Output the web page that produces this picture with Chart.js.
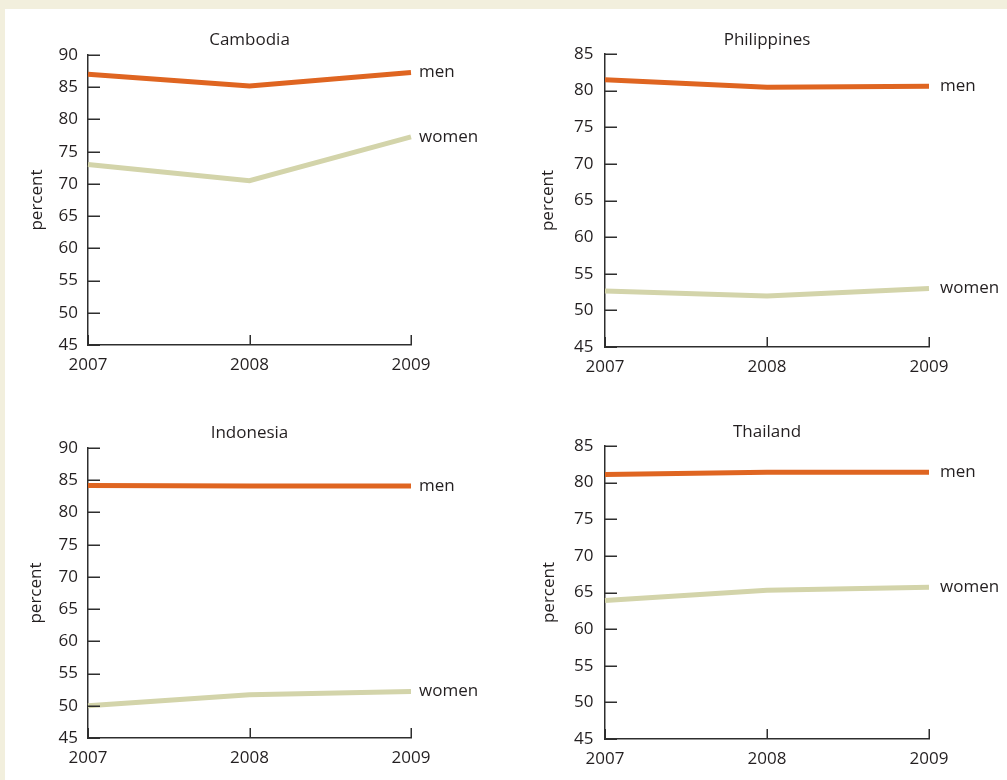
<!DOCTYPE html>
<html>
<head>
<meta charset="utf-8">
<script src="https://cdn.jsdelivr.net/npm/chart.js@4/dist/chart.umd.min.js"></script>
<style>
  html, body { margin: 0; padding: 0; }
  body { width: 1007px; height: 780px; background: #f2efdd; position: relative; overflow: hidden; }
  #panel { position: absolute; left: 5px; top: 9px; right: 0; bottom: 0; background: #ffffff; }
  canvas { position: absolute; }
</style>
</head>
<body>
<div id="panel"></div>
<canvas id="c1" width="503" height="390" style="left:0px;top:0px;width:503px;height:390px"></canvas>
<canvas id="c2" width="490" height="390" style="left:517px;top:0px;width:490px;height:390px"></canvas>
<canvas id="c3" width="503" height="390" style="left:0px;top:390px;width:503px;height:390px"></canvas>
<canvas id="c4" width="490" height="390" style="left:517px;top:390px;width:490px;height:390px"></canvas>
<script>
// ---- data ----
const years = ['2007', '2008', '2009'];
const seriesNames = ['men', 'women'];
const countries = ['Cambodia', 'Philippines', 'Indonesia', 'Thailand'];

const cambodiaMen = [87.0, 85.2, 87.3];
const cambodiaWomen = [73.0, 70.5, 77.3];
const philippinesMen = [81.5, 80.45, 80.6];
const philippinesWomen = [52.65, 51.95, 53.0];
const indonesiaMen = [84.2, 84.1, 84.1];
const indonesiaWomen = [50.0, 51.7, 52.2];
const thailandMen = [81.1, 81.4, 81.4];
const thailandWomen = [63.9, 65.3, 65.7];

const yMins = [45, 45, 45, 45];
const yMaxs = [90, 85, 90, 85];
const yStep = 5;
const yAxisTitle = 'percent';

// ---- styles / layout ----
const MEN_COLOR = '#df6521';
const WOMEN_COLOR = '#d3d4aa';
const TEXT_COLOR = '#231f20';
const AXIS_COLOR = '#2e2e2e';
const FONT = "'Open Sans', sans-serif";

const panels = [
  { id: 'c1', x0: 0,   y0: 0,   w: 503, h: 390, L: 88,  R: 411, T: 55,  B: 345, titleY: 40.5, yTitleX: 36.7, yLabGap: 10,   endGap: 8,  men: cambodiaMen,    women: cambodiaWomen },
  { id: 'c2', x0: 517, y0: 0,   w: 490, h: 390, L: 605, R: 929, T: 54,  B: 347, titleY: 40.3, yTitleX: 548.3, yLabGap: 11.5, endGap: 11, men: philippinesMen, women: philippinesWomen },
  { id: 'c3', x0: 0,   y0: 390, w: 503, h: 390, L: 88,  R: 411, T: 448, B: 738, titleY: 432.7, yTitleX: 36.3, yLabGap: 10,   endGap: 8,  men: indonesiaMen,   women: indonesiaWomen },
  { id: 'c4', x0: 517, y0: 390, w: 490, h: 390, L: 605, R: 929, T: 446, B: 739, titleY: 432.3, yTitleX: 548.8, yLabGap: 11.5, endGap: 11, men: thailandMen,    women: thailandWomen }
];

const FONT_SIZE = 17;
const LH = FONT_SIZE * 1.2;
const Y_TICK_IN = 12;
const X_TICK_IN = 10;

Chart.defaults.font.family = FONT;
Chart.defaults.font.size = FONT_SIZE;
Chart.defaults.color = TEXT_COLOR;

const endLabelPlugin = {
  id: 'endLabels',
  afterDatasetsDraw(chart, args, opts) {
    const ctx = chart.ctx;
    ctx.save();
    ctx.font = FONT_SIZE + 'px ' + FONT;
    ctx.fillStyle = TEXT_COLOR;
    ctx.textAlign = 'left';
    ctx.textBaseline = 'middle';
    chart.data.datasets.forEach((ds, i) => {
      const meta = chart.getDatasetMeta(i);
      const pt = meta.data[meta.data.length - 1];
      ctx.fillText(ds.label, pt.x + opts.gap, pt.y);
    });
    ctx.restore();
  }
};

// inward tick marks, positioned through the chart's own scales
const innerTicksPlugin = {
  id: 'innerTicks',
  afterDraw(chart) {
    const ctx = chart.ctx;
    const xs = chart.scales.x, ys = chart.scales.y;
    const left = chart.chartArea.left, bottom = chart.chartArea.bottom;
    ctx.save();
    ctx.strokeStyle = AXIS_COLOR;
    ctx.lineWidth = 1.5;
    ctx.beginPath();
    ys.ticks.forEach(t => {
      const y = Math.round(ys.getPixelForValue(t.value)) + 0.25;
      ctx.moveTo(left, y);
      ctx.lineTo(left + Y_TICK_IN, y);
    });
    xs.ticks.forEach((t, i) => {
      const x = Math.round(xs.getPixelForTick(i)) + 0.25;
      ctx.moveTo(x, bottom);
      ctx.lineTo(x, bottom - X_TICK_IN);
    });
    ctx.stroke();
    ctx.restore();
  }
};

panels.forEach((p, idx) => {
  const yAxisWidth = p.L - p.x0;
  const xAxisHeight = p.y0 + p.h - p.B;
  const titleTop = p.titleY - p.y0 - LH / 2;
  const titleBottom = p.T - p.titleY - LH / 2;
  new Chart(document.getElementById(p.id), {
    type: 'line',
    data: {
      labels: years,
      datasets: [
        { label: seriesNames[0], data: p.men, borderColor: MEN_COLOR, backgroundColor: MEN_COLOR, borderWidth: 5, pointRadius: 0, tension: 0, borderCapStyle: 'butt' },
        { label: seriesNames[1], data: p.women, borderColor: WOMEN_COLOR, backgroundColor: WOMEN_COLOR, borderWidth: 5, pointRadius: 0, tension: 0, borderCapStyle: 'butt' }
      ]
    },
    options: {
      responsive: false,
      animation: false,
      events: [],
      layout: { padding: { left: 0, top: 0, bottom: 0, right: p.x0 + p.w - p.R } },
      plugins: {
        legend: { display: false },
        tooltip: { enabled: false },
        title: {
          display: true,
          fullSize: false,
          text: countries[idx],
          color: TEXT_COLOR,
          font: { size: FONT_SIZE, weight: 'normal' },
          padding: { top: titleTop, bottom: titleBottom }
        },
        endLabels: { gap: p.endGap }
      },
      scales: {
        x: {
          offset: false,
          grid: { display: false, drawOnChartArea: false, drawTicks: false },
          border: { display: true, color: AXIS_COLOR, width: 1.5 },
          ticks: { padding: 10, maxRotation: 0, autoSkip: false, color: TEXT_COLOR, font: { size: FONT_SIZE } },
          afterFit(scale) { scale.height = xAxisHeight; }
        },
        y: {
          min: yMins[idx],
          max: yMaxs[idx],
          grid: { display: false, drawOnChartArea: false, drawTicks: false },
          border: { display: true, color: AXIS_COLOR, width: 1.5 },
          ticks: { stepSize: yStep, padding: p.yLabGap, color: TEXT_COLOR, font: { size: FONT_SIZE } },
          title: { display: true, text: yAxisTitle, color: TEXT_COLOR, font: { size: FONT_SIZE }, padding: { top: p.yTitleX - p.x0 - LH / 2, bottom: 0 } },
          afterFit(scale) { scale.width = yAxisWidth; }
        }
      }
    },
    plugins: [endLabelPlugin, innerTicksPlugin]
  });
});
</script>
</body>
</html>
